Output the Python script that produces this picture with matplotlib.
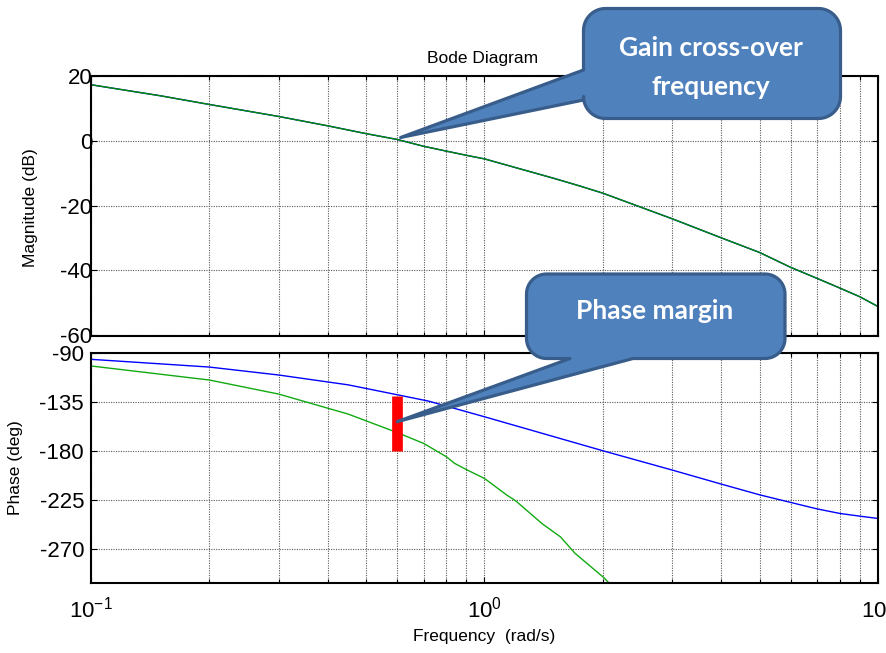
import numpy as np
import matplotlib
matplotlib.use("Agg")
import matplotlib.pyplot as plt
from matplotlib.path import Path
from matplotlib.patches import PathPatch
from matplotlib.transforms import IdentityTransform
from matplotlib.ticker import LogLocator, NullFormatter, FixedLocator

# ---- data -------------------------------------------------------------
mag_freq = [0.1, 0.15, 0.2, 0.3, 0.4, 0.5, 0.6, 0.7, 0.8, 0.9, 1.0, 1.2, 1.5,
            1.75, 2, 3, 4, 5, 6, 7, 8, 9, 10]
mag_db = [17.3, 13.9, 11.2, 7.5, 4.6, 2.2, 0.4, -1.7, -3.2, -4.5, -5.6, -8.3,
          -11.6, -14.0, -16.2, -24.1, -30.0, -34.5, -39.1, -42.5, -45.5, -48.2, -51.2]

ph1_freq = [0.1, 0.2, 0.3, 0.45, 0.6, 0.72, 1.0, 2, 3, 4, 5, 6, 7, 8, 9, 10]
ph1_deg = [-95.8, -102.9, -110.2, -119.2, -128.3, -134.1, -148.5, -179.7,
           -197.4, -210.3, -220.1, -227.1, -233.0, -237.2, -239.7, -241.8]

ph2_freq = [0.1, 0.2, 0.3, 0.45, 0.6, 0.7, 0.8, 0.84, 0.9, 1.0, 1.14, 1.2,
            1.4, 1.56, 1.7, 2.0, 2.1]
ph2_deg = [-101.9, -114.8, -127.7, -146.0, -163.0, -172.9, -185.2, -191.3,
           -197.0, -205.1, -220.4, -225.6, -246.5, -258.7, -273.9, -295.4, -303.0]

w_gc = 0.6            # gain cross-over frequency (rad/s)
phase_margin = 50.5   # deg

mag_ticks = [20, 0, -20, -40, -60]
phase_ticks = [-90, -135, -180, -225, -270]

# ---- style ------------------------------------------------------------
plt.rcParams["font.family"] = ["Liberation Sans", "DejaVu Sans"]
plt.rcParams["mathtext.fontset"] = "custom"
plt.rcParams["mathtext.rm"] = "Liberation Sans"
plt.rcParams["mathtext.it"] = "Liberation Sans"
plt.rcParams["axes.unicode_minus"] = False

W, H = 887, 653
fig = plt.figure(figsize=(W / 100, H / 100), dpi=100)
fig.patch.set_facecolor("white")

ax1 = fig.add_axes([91 / W, 1 - 336 / H, 787 / W, 260 / H])
ax2 = fig.add_axes([91 / W, 1 - 583 / H, 787 / W, 230 / H])

grid_kw = dict(color="0.35", linestyle=(0, (1, 1.2)), linewidth=0.8)

for ax in (ax1, ax2):
    ax.set_xscale("log")
    ax.set_xlim(0.1, 10)
    ax.xaxis.set_major_locator(LogLocator(base=10, numticks=10))
    ax.xaxis.set_minor_locator(LogLocator(base=10, subs=np.arange(2, 10), numticks=10))
    ax.xaxis.set_minor_formatter(NullFormatter())
    ax.grid(True, which="major", axis="both", **grid_kw)
    ax.grid(True, which="minor", axis="x", **grid_kw)
    ax.set_axisbelow(True)
    ax.tick_params(which="both", direction="in", top=True, right=True,
                   width=0.8, labelsize=16)
    ax.tick_params(which="major", length=4)
    ax.tick_params(which="minor", length=3)
    for s in ax.spines.values():
        s.set_linewidth(1.5)

# magnitude
ax1.plot(mag_freq, mag_db, color="#0000ff", lw=1.0)
ax1.plot(mag_freq, mag_db, color="#008a00", lw=1.0)
ax1.set_ylim(-60.3, 20)
ax1.yaxis.set_major_locator(FixedLocator(mag_ticks))
ax1.tick_params(axis="x", labelbottom=False)
ax1.tick_params(axis="y", pad=-1)
ax1.text(-0.0775, 0.492, "Magnitude (dB)", transform=ax1.transAxes,
         rotation=90, ha="center", va="center", fontsize=12.5)

# phase
ax2.plot(ph1_freq, ph1_deg, color="#0000ff", lw=1.0)
ax2.plot(ph2_freq, ph2_deg, color="#11aa11", lw=1.0)
ax2.set_ylim(-301, -90)
ax2.yaxis.set_major_locator(FixedLocator(phase_ticks))
ax2.tick_params(axis="y", pad=5)
ax2.tick_params(axis="x", pad=10)
ax2.text(-0.0953, 0.5, "Phase (deg)", transform=ax2.transAxes,
         rotation=90, ha="center", va="center", fontsize=12.5)

# phase-margin bar at the gain cross-over frequency
ax2.vlines(w_gc, -180, -180 + phase_margin, color="#ff0000", lw=7.7,
           capstyle="butt", zorder=4)

fig.text(483 / W, 1 - 58 / H, "Bode Diagram", ha="center", va="center",
         fontsize=12.5)
fig.text(484 / W, 1 - 637 / H, "Frequency  (rad/s)", ha="center",
         va="center", fontsize=12.5)


# ---- callouts ---------------------------------------------------------
def callout(x0, y0, x1, y1, r, side, ba, bb, tip, n=14):
    """Rounded box (top-down pixel coords) with a wedge pointing at tip."""
    pts = []

    def arc(cx, cy, t0, t1):
        for t in np.radians(np.linspace(t0, t1, n)):
            pts.append((cx + r * np.cos(t), cy + r * np.sin(t)))

    pts.append((x0 + r, y0))
    pts.append((x1 - r, y0))
    arc(x1 - r, y0 + r, -90, 0)
    pts.append((x1, y1 - r))
    arc(x1 - r, y1 - r, 0, 90)
    if side == "bottom":
        pts += [(bb, y1), tip, (ba, y1)]
    pts.append((x0 + r, y1))
    arc(x0 + r, y1 - r, 90, 180)
    if side == "left":
        pts += [(x0, bb), tip, (x0, ba)]
    arc(x0 + r, y0 + r, 180, 270)
    pts.append(pts[0])
    verts = [(x, H - y) for x, y in pts]
    codes = [Path.MOVETO] + [Path.LINETO] * (len(verts) - 2) + [Path.CLOSEPOLY]
    patch = PathPatch(Path(verts, codes), facecolor="#4f81bd",
                      edgecolor="#385d8a", lw=2.3, joinstyle="round",
                      transform=IdentityTransform(), zorder=5)
    fig.add_artist(patch)


def to_topdown(ax, x, y):
    px, py = ax.transData.transform((x, y))
    return (px, H - py)


tip_gain = to_topdown(ax1, w_gc * 1.02, 1.0)
tip_pm = to_topdown(ax2, w_gc, -153)

callout(583.5, 8.5, 840.5, 118.5, 22, "left", 70, 100, tip_gain)
callout(526.5, 274, 785, 358.5, 20, "bottom", 570, 633, tip_pm)

txt_kw = dict(color="white", fontweight="bold", family=["Lato", "DejaVu Sans"],
              fontsize=19, ha="center", va="baseline", zorder=6)
fig.text(711 / W, 1 - 56 / H, "Gain cross-over", **txt_kw)
fig.text(711 / W, 1 - 95 / H, "frequency", **txt_kw)
fig.text(655 / W, 1 - 319 / H, "Phase margin", **txt_kw)

fig.savefig("out.png", dpi=100)
